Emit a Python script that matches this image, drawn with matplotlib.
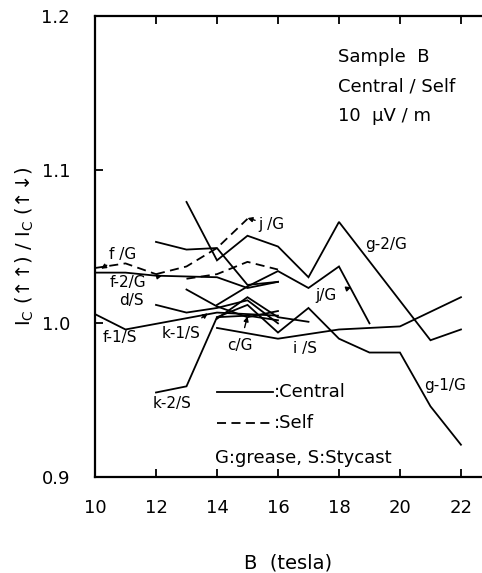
import matplotlib
matplotlib.use("Agg")
import matplotlib.pyplot as plt

# ---- data (B in tesla, ratio Ic(up,up)/Ic(up,down)) ----
fG_B = [10, 11, 12]
fG_v = [1.036, 1.039, 1.032]
jG_dash_B = [12, 13, 14, 15]
jG_dash_v = [1.032, 1.037, 1.049, 1.068]
self2_B = [13, 14, 15, 16]
self2_v = [1.029, 1.032, 1.040, 1.035]

f2G_B = [10, 11, 12, 14, 15, 16]
f2G_v = [1.033, 1.033, 1.031, 1.030, 1.023, 1.027]
e_B = [12, 13, 14, 15, 16]
e_v = [1.053, 1.048, 1.049, 1.025, 1.027]
g2G_B = [13, 14, 15, 16, 17, 18, 21, 22]
g2G_v = [1.079, 1.041, 1.057, 1.050, 1.030, 1.066, 0.989, 0.996]
jG_B = [14, 15, 16, 17, 18, 19]
jG_v = [1.012, 1.024, 1.034, 1.023, 1.037, 1.000]
g1G_B = [14, 15, 16, 17, 18, 19, 20, 21, 22]
g1G_v = [1.004, 1.012, 0.994, 1.010, 0.990, 0.981, 0.981, 0.946, 0.921]
iS_B = [14, 16, 18, 20, 22]
iS_v = [0.997, 0.990, 0.996, 0.998, 1.017]
k2S_B = [12, 13, 14, 15, 16]
k2S_v = [0.955, 0.959, 1.004, 1.005, 1.002]
f1S_B = [10, 11, 14, 16]
f1S_v = [1.006, 0.996, 1.007, 1.005]
dS_B = [12, 13, 14, 15, 16]
dS_v = [1.012, 1.007, 1.010, 1.015, 1.000]
kS_B = [13, 14, 15, 16]
kS_v = [1.022, 1.011, 1.004, 1.008]
cG_B = [14, 15, 16, 17]
cG_v = [1.003, 1.017, 1.004, 1.001]

solid_series = [(f2G_B, f2G_v), (e_B, e_v), (g2G_B, g2G_v), (jG_B, jG_v),
                (g1G_B, g1G_v), (iS_B, iS_v), (k2S_B, k2S_v), (f1S_B, f1S_v),
                (dS_B, dS_v), (kS_B, kS_v), (cG_B, cG_v)]
dashed_series = [(fG_B, fG_v), (jG_dash_B, jG_dash_v), (self2_B, self2_v)]

x_ticks = [10, 12, 14, 16, 18, 20, 22]
y_ticks = [0.9, 1.0, 1.1, 1.2]
y_ticklabels = ["0.9", "1.0", "1.1", "1.2"]

plt.rcParams['font.family'] = ['DejaVu Sans']
fig = plt.figure(figsize=(4.82, 5.73), dpi=100)
ax = fig.add_axes([95/482, 96/573, 387/482, 461/573])

for bx, vy in solid_series:
    ax.plot(bx, vy, color='black', lw=1.3, solid_joinstyle='miter')
for bx, vy in dashed_series:
    ax.plot(bx, vy, color='black', lw=1.3, dashes=(5, 3))

ax.set_xlim(10, 22.69)
ax.set_ylim(0.9, 1.2)
ax.set_xticks(x_ticks)
ax.set_yticks(y_ticks)
ax.set_yticklabels(y_ticklabels)
ax.tick_params(direction='in', length=6, width=1.3, top=True, right=False,
               labelsize=13)
ax.tick_params(axis='x', pad=16)
ax.tick_params(axis='y', pad=18)
for s in ['left', 'bottom', 'top']:
    ax.spines[s].set_linewidth(1.6)
ax.spines['right'].set_visible(False)

ax.set_xlabel("B  (tesla)", fontsize=14, labelpad=26)
ax.set_ylabel("I$_\\mathregular{C}$ (↑↑) / I$_\\mathregular{C}$ (↑↓)", fontsize=14, labelpad=4)

# info text
for i, t in enumerate(["Sample  B", "Central / Self", "10  μV / m"]):
    ax.text(0.627, 0.91 - i * 0.064, t, transform=ax.transAxes, fontsize=13,
            ha='left', va='center')

# legend-like text
ax.plot([14.0, 15.85], [0.955, 0.955], color='black', lw=1.3)
ax.text(15.85, 0.955, ":Central", fontsize=13, va='center', ha='left')
ax.plot([14.0, 15.85], [0.935, 0.935], color='black', lw=1.3, dashes=(5, 3))
ax.text(15.85, 0.935, ":Self", fontsize=13, va='center', ha='left')
ax.text(13.93, 0.9124, "G:grease, S:Stycast", fontsize=13, va='center', ha='left')

lab_fs = 11
def lab(t, x, y, xy=None):
    if xy is None:
        ax.text(x, y, t, fontsize=lab_fs, ha='center', va='center')
    else:
        ax.annotate(t, xy=xy, xytext=(x, y), fontsize=lab_fs, ha='center', va='center',
                    arrowprops=dict(arrowstyle='-|>', lw=1.0, color='black',
                                    shrinkA=6, shrinkB=0, mutation_scale=7))

lab("f /G", 10.92, 1.0445, xy=(10.2, 1.0355))
lab("f-2/G", 11.08, 1.0263, xy=(12.2, 1.031))
lab("d/S", 11.2, 1.0146)
lab("f-1/S", 10.82, 0.991)
lab("k-1/S", 12.82, 0.9937, xy=(13.7, 1.0065))
lab("k-2/S", 12.52, 0.9476)
lab("c/G", 14.75, 0.9853, xy=(15.0, 1.0045))
lab("i /S", 16.9, 0.9833)
lab("j /G", 15.77, 1.064, xy=(15.0, 1.0685))
lab("j/G", 17.57, 1.0178, xy=(18.4, 1.0235))
lab("g-2/G", 19.54, 1.051)
lab("g-1/G", 21.48, 0.9593)

fig.savefig("out.png", dpi=100)
